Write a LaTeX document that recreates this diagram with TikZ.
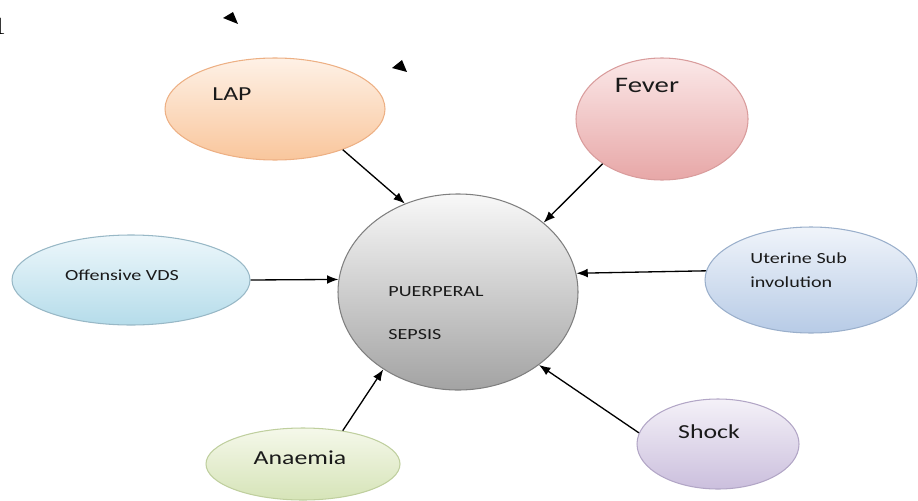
\documentclass[tikz,border=0pt]{standalone}
\usepackage{fontspec}
\setmainfont{Carlito}[FakeStretch=1.3]
\newfontfamily\serifone{Liberation Serif}
\usetikzlibrary{shapes.geometric,arrows.meta}
\definecolor{lapT}{HTML}{FEF1E6}
\definecolor{lapB}{HTML}{F9C69C}
\definecolor{lapD}{HTML}{EDB084}
\definecolor{fevT}{HTML}{FBE8E8}
\definecolor{fevB}{HTML}{E7A7A7}
\definecolor{fevD}{HTML}{D99C9C}
\definecolor{ovdT}{HTML}{EDF7FB}
\definecolor{ovdB}{HTML}{B5DCEA}
\definecolor{ovdD}{HTML}{98B8C6}
\definecolor{uteT}{HTML}{F0F4FA}
\definecolor{uteB}{HTML}{B7CBE6}
\definecolor{uteD}{HTML}{9AAFCB}
\definecolor{anaT}{HTML}{F5F8EA}
\definecolor{anaB}{HTML}{D6E4B8}
\definecolor{anaD}{HTML}{BFCF9E}
\definecolor{shoT}{HTML}{F4F1F8}
\definecolor{shoB}{HTML}{CBBFDD}
\definecolor{shoD}{HTML}{B2A6C6}
\definecolor{psT}{HTML}{F8F8F8}
\definecolor{psB}{HTML}{A3A3A3}
\definecolor{psD}{HTML}{7F7F7F}
\definecolor{txt}{HTML}{1A1A1A}
\begin{document}
\begin{tikzpicture}[x=0.02cm,y=-0.02cm,
  bub/.style 2 args={ellipse, inner sep=0pt, line width=0.6pt,
     minimum width=#1*0.02cm, minimum height=#2*0.02cm},
  lbl/.style={inner sep=0pt, text=txt},
  big/.style={font=\fontsize{11.3}{13}\selectfont},
  small/.style={font=\fontsize{8.8}{13.6}\selectfont},
  conn/.style={-{Latex[length=6.5pt,width=5pt]}, line width=0.75pt, draw=black}]
\useasboundingbox (0,0) rectangle (918,500);
% bubbles
\node[bub={220}{102}, draw=lapD, top color=lapT, bottom color=lapB] (lap) at (275,109) {};
\node[bub={172}{122}, draw=fevD, top color=fevT, bottom color=fevB] (fev) at (662,119) {};
\node[bub={238}{90}, draw=ovdD, top color=ovdT, bottom color=ovdB] (ovd) at (131,280) {};
\node[bub={212}{106}, draw=uteD, top color=uteT, bottom color=uteB] (ute) at (811,280) {};
\node[bub={194}{72}, draw=anaD, top color=anaT, bottom color=anaB] (ana) at (303,464) {};
\node[bub={162}{90}, draw=shoD, top color=shoT, bottom color=shoB] (sho) at (718,444) {};
\node[bub={240}{196}, draw=psD, top color=psT, bottom color=psB] (ps) at (458,292) {};
% labels
\node[lbl, big] (tlap) at (232,94) {LAP};
\node[lbl, font=\fontsize{12.6}{14}\selectfont] (tfev) at (647,85) {Fever};
\node[lbl, small] (tovd) at (122,275) {Offensive VDS};
\node[lbl, small, align=left, anchor=west] (tute) at (750,270) {Uterine Sub\\involution};
\node[lbl, big] (tana) at (300,458) {Anaemia};
\node[lbl, big] (tsho) at (709,432) {Shock};
\node[lbl, small, anchor=west] (tps1) at (388,292) {PUERPERAL};
\node[lbl, small, anchor=west] (tps2) at (388,335) {SEPSIS};
\node[lbl, anchor=base west, font=\serifone\fontsize{14}{16}\selectfont, text=black] (one) at (-7,35) {1};
% connectors
\draw[conn] (lap.-31) -- (ps.121);
\draw[conn] (fev.217) -- (ps.39.6);
\draw[conn] (ovd.0) -- (ps.174.25);
\draw[conn] (ute.175.6) -- (ps.9.66);
\draw[conn] (ana.40.6) -- (ps.226.5);
\draw[conn] (sho.172.3) -- (ps.-42.1);
% stray arrowheads
\fill[black] (223,18) -- (233,12) -- (238,24) -- cycle;
\fill[black] (392,68) -- (402,60) -- (407,72) -- cycle;
\end{tikzpicture}
\end{document}
